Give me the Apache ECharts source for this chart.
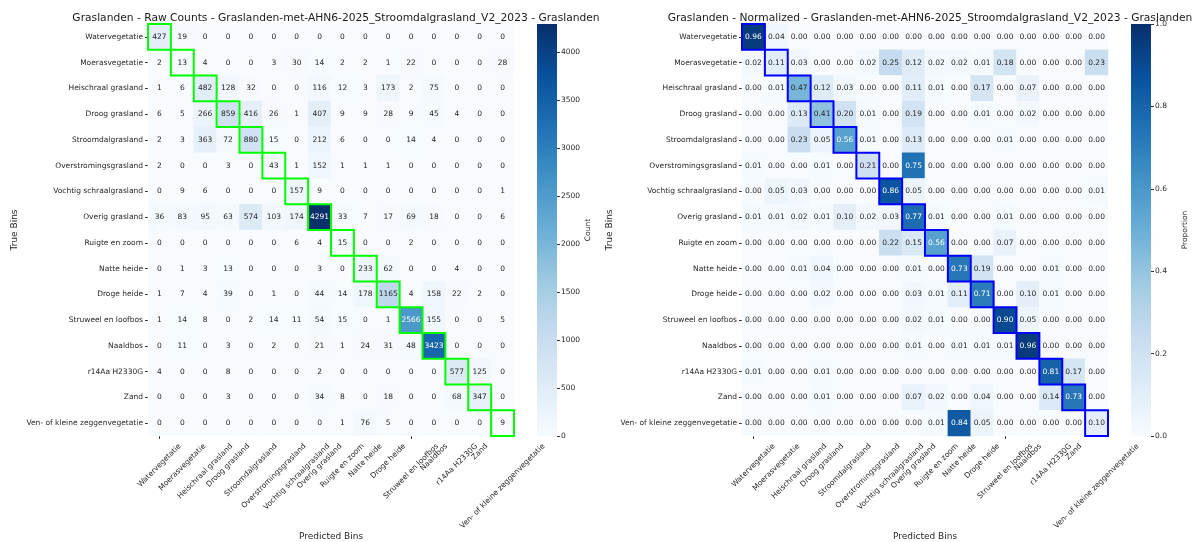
<!DOCTYPE html>
<html>
<head>
<meta charset="utf-8">
<script src="https://cdn.jsdelivr.net/npm/echarts@6/dist/echarts.min.js"></script>
<style>
html,body{margin:0;padding:0;background:#fff;}
#chart{width:1192px;height:542px;}
</style>
</head>
<body>
<div id="chart"></div>
<script>
// ---------- DATA ----------
const categories = [
  'Watervegetatie','Moerasvegetatie','Heischraal grasland','Droog grasland','Stroomdalgrasland',
  'Overstromingsgrasland','Vochtig schraalgrasland','Overig grasland','Ruigte en zoom','Natte heide',
  'Droge heide','Struweel en loofbos','Naaldbos','r14Aa H2330G','Zand','Ven- of kleine zeggenvegetatie'
];
const rawCounts = [
  [427,19,0,0,0,0,0,0,0,0,0,0,0,0,0,0],
  [2,13,4,0,0,3,30,14,2,2,1,22,0,0,0,28],
  [1,6,482,128,32,0,0,116,12,3,173,2,75,0,0,0],
  [6,5,266,859,416,26,1,407,9,9,28,9,45,4,0,0],
  [2,3,363,72,880,15,0,212,6,0,0,14,4,0,0,0],
  [2,0,0,3,0,43,1,152,1,1,1,0,0,0,0,0],
  [0,9,6,0,0,0,157,9,0,0,0,0,0,0,0,1],
  [36,83,95,63,574,103,174,4291,33,7,17,69,18,0,0,6],
  [0,0,0,0,0,0,6,4,15,0,0,2,0,0,0,0],
  [0,1,3,13,0,0,0,3,0,233,62,0,0,4,0,0],
  [1,7,4,39,0,1,0,44,14,178,1165,4,158,22,2,0],
  [1,14,8,0,2,14,11,54,15,0,1,2566,155,0,0,5],
  [0,11,0,3,0,2,0,21,1,24,31,48,3423,0,0,0],
  [4,0,0,8,0,0,0,2,0,0,0,0,0,577,125,0],
  [0,0,0,3,0,0,0,34,8,0,18,0,0,68,347,0],
  [0,0,0,0,0,0,0,0,1,76,5,0,0,0,0,9]
];
const proportions = [
  [0.96,0.04,0,0,0,0,0,0,0,0,0,0,0,0,0,0],
  [0.02,0.11,0.03,0,0,0.02,0.25,0.12,0.02,0.02,0.01,0.18,0,0,0,0.23],
  [0,0.01,0.47,0.12,0.03,0,0,0.11,0.01,0,0.17,0,0.07,0,0,0],
  [0,0,0.13,0.41,0.20,0.01,0,0.19,0,0,0.01,0,0.02,0,0,0],
  [0,0,0.23,0.05,0.56,0.01,0,0.13,0,0,0,0.01,0,0,0,0],
  [0.01,0,0,0.01,0,0.21,0,0.75,0,0,0,0,0,0,0,0],
  [0,0.05,0.03,0,0,0,0.86,0.05,0,0,0,0,0,0,0,0.01],
  [0.01,0.01,0.02,0.01,0.10,0.02,0.03,0.77,0.01,0,0,0.01,0,0,0,0],
  [0,0,0,0,0,0,0.22,0.15,0.56,0,0,0.07,0,0,0,0],
  [0,0,0.01,0.04,0,0,0,0.01,0,0.73,0.19,0,0,0.01,0,0],
  [0,0,0,0.02,0,0,0,0.03,0.01,0.11,0.71,0,0.10,0.01,0,0],
  [0,0,0,0,0,0,0,0.02,0.01,0,0,0.90,0.05,0,0,0],
  [0,0,0,0,0,0,0,0.01,0,0.01,0.01,0.01,0.96,0,0,0],
  [0.01,0,0,0.01,0,0,0,0,0,0,0,0,0,0.81,0.17,0],
  [0,0,0,0.01,0,0,0,0.07,0.02,0,0.04,0,0,0.14,0.73,0],
  [0,0,0,0,0,0,0,0,0.01,0.84,0.05,0,0,0,0,0.10]
];
const countTicks = [0,500,1000,1500,2000,2500,3000,3500,4000];
const propTicks = [0,0.2,0.4,0.6,0.8,1.0];
const titleLeft = 'Graslanden - Raw Counts - Graslanden-met-AHN6-2025_Stroomdalgrasland_V2_2023 - Graslanden';
const titleRight = 'Graslanden - Normalized - Graslanden-met-AHN6-2025_Stroomdalgrasland_V2_2023 - Graslanden';

// ---------- STYLE ----------
const FONT = 'DejaVu Sans';
const TICK_FS = 7.5;
const TICK_FONT = TICK_FS + 'px "DejaVu Sans"';
const TXT = '#262626';
const blues = ['#f7fbff','#deebf7','#c6dbef','#9ecae1','#6baed6','#4292c6','#2171b5','#08519c','#08306b'];
const gradient = {type:'linear',x:0,y:1,x2:0,y2:0,
  colorStops: blues.map((c,i)=>({offset:i/(blues.length-1),color:c}))};

const maxCount = Math.max(...rawCounts.flat());
const maxProp = 1;

const measureCtx = document.createElement('canvas').getContext('2d');
measureCtx.font = TICK_FONT;
function textWidth(t){ return measureCtx.measureText(t).width; }

function toCells(matrix, max){
  const out = [];
  matrix.forEach((row,i)=>row.forEach((v,j)=>{
    out.push({value:[j,i,v], label:{color: v/max>0.5 ? '#ffffff' : TXT}});
  }));
  return out;
}
const diag = categories.map((c,i)=>[i,i]);

function heatAxes(gi){
  return {
    x:{type:'category',gridIndex:gi,data:categories,
      axisLine:{show:false},
      axisTick:{show:true,alignWithLabel:true,length:3,lineStyle:{color:'#333'}},
      axisLabel:{show:false},
      splitLine:{show:false}},
    y:{type:'category',gridIndex:gi,data:categories,inverse:true,
      axisLine:{show:false},
      axisTick:{show:true,alignWithLabel:true,length:3,lineStyle:{color:'#333'}},
      axisLabel:{interval:0,fontSize:TICK_FS,fontFamily:FONT,color:TXT,margin:5},
      splitLine:{show:false}}
  };
}
function barAxes(gi,max,ticks,fmt){
  return {
    x:{type:'category',gridIndex:gi,data:[''],show:false},
    y:{type:'value',gridIndex:gi,min:0,max:max,position:'right',
      axisLine:{show:false},splitLine:{show:false},
      axisTick:{show:true,length:3,lineStyle:{color:'#333'},customValues:ticks},
      axisLabel:{fontSize:TICK_FS,fontFamily:FONT,color:TXT,margin:4,customValues:ticks,formatter:fmt}}
  };
}
const A0 = heatAxes(0), A1 = barAxes(1,maxCount,countTicks,v=>String(v));
const A2 = heatAxes(2), A3 = barAxes(3,maxProp,propTicks,v=>v.toFixed(1));

function outline(xi,yi,color){
  return {type:'custom',xAxisIndex:xi,yAxisIndex:yi,data:diag,silent:true,z:5,
    renderItem:function(params,api){
      const p = api.coord([api.value(0),api.value(1)]);
      const s = api.size([1,1]);
      return {type:'rect',shape:{x:p[0]-s[0]/2,y:p[1]-s[1]/2,width:s[0],height:s[1]},
        style:{fill:'none',stroke:color,lineWidth:2}};
    }};
}
// x tick labels rotated 45deg and centred on their tick (matplotlib ha='center')
function xLabels(xi,yi){
  return {type:'custom',xAxisIndex:xi,yAxisIndex:yi,data:diag,silent:true,clip:false,z:6,
    renderItem:function(params,api){
      const i = api.value(0);
      const x = api.coord([i,0])[0];
      const bottom = params.coordSys.y + params.coordSys.height;
      const t = categories[i];
      const half = (textWidth(t) + TICK_FS*1.15) * Math.SQRT1_2 / 2;
      return {type:'text',x:x,y:bottom + 6 + half,rotation:Math.PI/4,
        style:{text:t,font:TICK_FONT,fill:TXT,align:'center',verticalAlign:'middle'}};
    }};
}

const option = {
  animation:false,
  backgroundColor:'#fff',
  textStyle:{fontFamily:FONT},
  title:[
    {text:titleLeft,left:331,top:8,textAlign:'center',textStyle:{fontSize:10.7,fontWeight:'normal',color:'#1a1a1a',fontFamily:FONT}},
    {text:titleRight,left:925,top:8,textAlign:'center',textStyle:{fontSize:10.7,fontWeight:'normal',color:'#1a1a1a',fontFamily:FONT}}
  ],
  grid:[
    {left:148,top:24,width:366,height:412},
    {left:537,top:24,width:20,height:412},
    {left:742,top:24,width:366,height:412},
    {left:1131,top:24,width:20,height:412}
  ],
  xAxis:[A0.x,A1.x,A2.x,A3.x],
  yAxis:[A0.y,A1.y,A2.y,A3.y],
  visualMap:[
    {show:false,seriesIndex:0,min:0,max:maxCount,dimension:2,inRange:{color:blues}},
    {show:false,seriesIndex:4,min:0,max:maxProp,dimension:2,inRange:{color:blues}}
  ],
  series:[
    {type:'heatmap',xAxisIndex:0,yAxisIndex:0,data:toCells(rawCounts,maxCount),
      label:{show:true,fontSize:TICK_FS,fontFamily:FONT,formatter:p=>String(p.value[2])},
      emphasis:{disabled:true},progressive:0},
    outline(0,0,'#00ff00'),
    xLabels(0,0),
    {type:'bar',xAxisIndex:1,yAxisIndex:1,data:[maxCount],barWidth:'100%',silent:true,
      itemStyle:{color:gradient}},
    {type:'heatmap',xAxisIndex:2,yAxisIndex:2,data:toCells(proportions,maxProp),
      label:{show:true,fontSize:TICK_FS,fontFamily:FONT,formatter:p=>p.value[2].toFixed(2)},
      emphasis:{disabled:true},progressive:0},
    outline(2,2,'#0000ff'),
    xLabels(2,2),
    {type:'bar',xAxisIndex:3,yAxisIndex:3,data:[maxProp],barWidth:'100%',silent:true,
      itemStyle:{color:gradient}}
  ],
  graphic:[
    {type:'text',x:15,y:230,rotation:Math.PI/2,style:{text:'True Bins',font:'9px "DejaVu Sans"',fill:TXT,align:'center',verticalAlign:'middle'}},
    {type:'text',x:610,y:230,rotation:Math.PI/2,style:{text:'True Bins',font:'9px "DejaVu Sans"',fill:TXT,align:'center',verticalAlign:'middle'}},
    {type:'text',x:331,y:537,style:{text:'Predicted Bins',font:'9px "DejaVu Sans"',fill:TXT,align:'center',verticalAlign:'middle'}},
    {type:'text',x:925,y:537,style:{text:'Predicted Bins',font:'9px "DejaVu Sans"',fill:TXT,align:'center',verticalAlign:'middle'}},
    {type:'text',x:588,y:230,rotation:Math.PI/2,style:{text:'Count',font:'7.5px "DejaVu Sans"',fill:TXT,align:'center',verticalAlign:'middle'}},
    {type:'text',x:1185,y:230,rotation:Math.PI/2,style:{text:'Proportion',font:'7.5px "DejaVu Sans"',fill:TXT,align:'center',verticalAlign:'middle'}}
  ]
};
const chart = echarts.init(document.getElementById('chart'),null,{renderer:'canvas'});
chart.setOption(option);
</script>
</body>
</html>
